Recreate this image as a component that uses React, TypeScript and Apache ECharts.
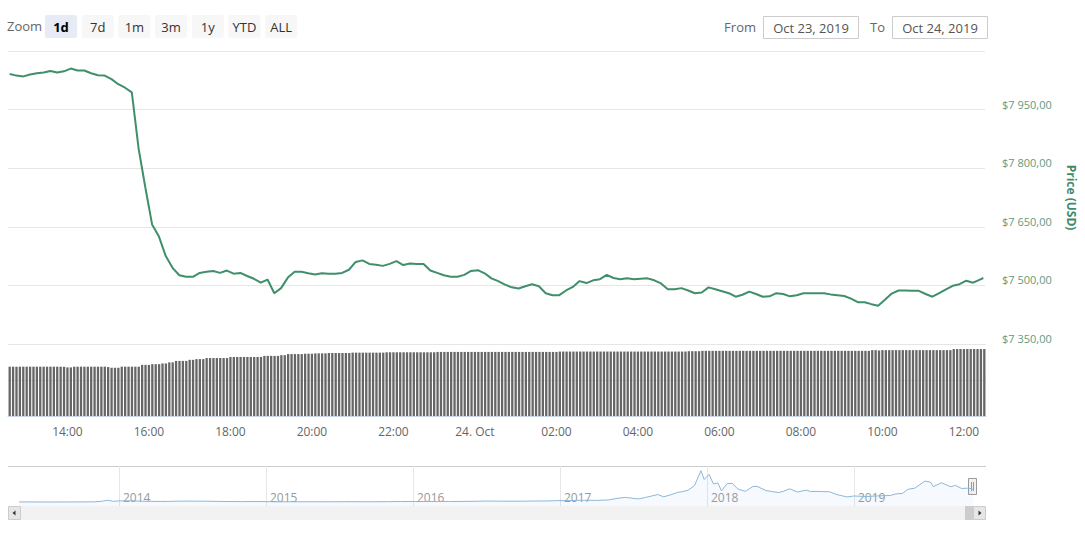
import React, { useEffect, useRef } from "react";
import * as echarts from "echarts";

// ---- data ----
const startMinutes = 12 * 60 + 35; // first 5-minute slot: Oct 23, 12:35
const slotMinutes = 5;

// price every 10 minutes (every second slot), then the latest slot
const price10m = [
  8041, 8037, 8035, 8040, 8043, 8045, 8049, 8045, 8048, 8055,
  8050, 8050, 8043, 8038, 8037, 8028, 8015, 8006, 7994, 7850,
  7750, 7655, 7625, 7575, 7545, 7526, 7522, 7522, 7532, 7535,
  7537, 7532, 7538, 7530, 7532, 7524, 7517, 7507, 7515, 7480,
  7493, 7520, 7535, 7535, 7531, 7528, 7531, 7530, 7530, 7532,
  7540, 7560, 7564, 7555, 7553, 7550, 7555, 7562, 7552, 7556,
  7555, 7555, 7538, 7532, 7526, 7522, 7522, 7527, 7537, 7539,
  7531, 7518, 7511, 7502, 7495, 7492, 7498, 7503, 7498, 7480,
  7475, 7475, 7487, 7496, 7511, 7506, 7513, 7516, 7527, 7519,
  7516, 7518, 7516, 7517, 7518, 7513, 7505, 7490, 7490, 7493,
  7487, 7480, 7482, 7495, 7490, 7485, 7480, 7471, 7476, 7484,
  7478, 7471, 7472, 7480, 7478, 7472, 7475, 7480, 7480, 7480,
  7480, 7477, 7475, 7473, 7466, 7457, 7457, 7452, 7448, 7463,
  7479, 7487, 7487, 7486, 7486, 7478, 7471, 7480, 7490, 7499,
  7503, 7512, 7507, 7515,
];
const priceLatest = 7519;

// volume per 5-minute slot, one row per hour
const volumeRows = [
  [13.7, 13.7, 13.7, 13.7, 13.7, 13.7, 13.7, 13.7, 13.7, 13.7, 13.7, 13.7],
  [13.7, 13.7, 13.7, 13.7, 13.7, 13.5, 13.5, 13.7, 13.7, 13.7, 13.7, 13.7],
  [13.7, 13.7, 13.7, 13.7, 13.7, 13.6, 13.4, 13.4, 13.4, 13.7, 13.7, 13.7],
  [13.7, 13.7, 13.7, 14.2, 14.2, 14.2, 14.4, 14.4, 14.4, 14.6, 14.6, 14.9],
  [14.9, 15.3, 15.3, 15.3, 15.3, 15.6, 15.6, 15.8, 15.8, 15.8, 16.1, 16.1],
  [16.1, 16.1, 16.1, 16.1, 16.1, 16.4, 16.4, 16.4, 16.4, 16.4, 16.4, 16.4],
  [16.4, 16.4, 16.4, 16.7, 16.7, 16.7, 16.7, 16.7, 16.9, 16.9, 17.2, 17.2],
  [17.2, 17.2, 17.2, 17.3, 17.3, 17.3, 17.4, 17.4, 17.4, 17.4, 17.5, 17.5],
  [17.5, 17.5, 17.5, 17.5, 17.5, 17.6, 17.6, 17.6, 17.6, 17.6, 17.6, 17.6],
  [17.6, 17.6, 17.6, 17.7, 17.7, 17.7, 17.7, 17.7, 17.7, 17.7, 17.7, 17.7],
  [17.7, 17.7, 17.7, 17.7, 17.7, 17.7, 17.8, 17.8, 17.8, 17.8, 17.8, 17.8],
  [17.8, 17.8, 17.8, 17.8, 17.8, 17.8, 17.8, 17.8, 17.8, 17.8, 17.8, 17.8],
  [17.8, 17.8, 17.8, 17.8, 17.8, 17.8, 17.8, 17.8, 17.8, 17.8, 17.8, 17.8],
  [17.8, 17.8, 17.8, 17.8, 17.8, 17.8, 17.9, 17.9, 17.9, 17.9, 17.9, 17.9],
  [17.9, 17.9, 17.9, 17.9, 17.9, 17.9, 17.9, 17.9, 17.9, 17.9, 17.9, 17.9],
  [17.9, 17.9, 17.9, 17.9, 17.9, 17.9, 17.9, 17.9, 17.9, 17.9, 17.9, 17.9],
  [17.9, 17.9, 17.9, 17.9, 17.9, 17.9, 17.9, 17.9, 18.0, 18.0, 18.0, 18.0],
  [18.1, 18.1, 18.1, 18.1, 18.1, 18.1, 18.1, 18.1, 18.1, 18.1, 18.1, 18.1],
  [18.1, 18.1, 18.1, 18.1, 18.1, 18.1, 18.1, 18.1, 18.1, 18.1, 18.1, 18.1],
  [18.1, 18.1, 18.1, 18.1, 18.1, 18.1, 18.1, 18.1, 18.1, 18.1, 18.1, 18.1],
  [18.1, 18.1, 18.1, 18.1, 18.1, 18.1, 18.1, 18.1, 18.1, 18.1, 18.1, 18.1],
  [18.1, 18.1, 18.3, 18.3, 18.2, 18.3, 18.3, 18.3, 18.3, 18.3, 18.3, 18.3],
  [18.3, 18.3, 18.3, 18.3, 18.3, 18.3, 18.3, 18.3, 18.3, 18.3, 18.3, 18.3],
  [18.3, 18.3, 18.6, 18.6, 18.6, 18.6, 18.6, 18.6, 18.6, 18.6, 18.6, 18.6],
];

const priceMin = 7350;
const priceMax = 8100;
const priceStep = 150;
const volumeMax = 20;
const volumeStep = 10;

const zoomButtons = ["1d", "7d", "1m", "3m", "1y", "YTD", "ALL"];
const selectedZoom = "1d";
const fromDate = "Oct 23, 2019";
const toDate = "Oct 24, 2019";
const dayTwoLabel = "24. Oct";

// navigator: long-term history
const navDates = [
  "2013-04-28", "2013-06-01", "2013-07-01", "2013-08-01", "2013-09-01", "2013-10-01", "2013-11-01", "2013-11-20", "2013-12-04", "2013-12-18",
  "2014-01-01", "2014-02-01", "2014-03-01", "2014-04-01", "2014-05-01", "2014-06-01", "2014-07-01", "2014-08-01", "2014-09-01", "2014-10-01", "2014-11-01", "2014-12-01",
  "2015-01-01", "2015-02-01", "2015-03-01", "2015-04-01", "2015-05-01", "2015-06-01", "2015-07-01", "2015-08-01", "2015-09-01", "2015-10-01", "2015-11-01", "2015-12-01",
  "2016-01-01", "2016-02-01", "2016-03-01", "2016-04-01", "2016-05-01", "2016-06-01", "2016-07-01", "2016-08-01", "2016-09-01", "2016-10-01", "2016-11-01", "2016-12-01",
  "2017-01-01", "2017-02-01", "2017-03-01", "2017-04-01", "2017-05-01", "2017-05-25", "2017-06-12", "2017-07-15", "2017-08-01", "2017-09-01", "2017-09-15", "2017-10-01", "2017-10-20", "2017-11-01", "2017-11-15", "2017-12-01", "2017-12-17", "2017-12-25",
  "2018-01-06", "2018-01-17", "2018-01-28", "2018-02-06", "2018-02-20", "2018-03-05", "2018-03-18", "2018-04-06", "2018-04-25", "2018-05-05", "2018-05-28", "2018-06-12", "2018-06-28", "2018-07-10", "2018-07-25", "2018-08-14", "2018-09-04", "2018-09-15", "2018-10-01", "2018-10-15", "2018-11-01", "2018-11-20", "2018-12-01", "2018-12-15",
  "2019-01-01", "2019-02-01", "2019-03-01", "2019-04-01", "2019-04-15", "2019-05-01", "2019-05-15", "2019-06-01", "2019-06-26", "2019-07-10", "2019-07-17", "2019-08-06", "2019-08-29", "2019-09-10", "2019-09-25", "2019-10-10", "2019-10-22", "2019-10-24",
];
const navValues = [
  135, 129, 97, 106, 135, 133, 204, 560, 1150, 520,
  770, 830, 560, 470, 445, 630, 640, 590, 480, 390, 330, 380,
  320, 220, 255, 245, 235, 230, 263, 285, 230, 237, 314, 378,
  430, 370, 437, 416, 448, 531, 673, 624, 574, 609, 700, 745,
  964, 970, 1190, 1080, 1350, 2400, 2950, 1950, 2875, 4700, 3300, 4340, 6000, 6470, 7300, 10200, 19300, 13900,
  17100, 11200, 11800, 6900, 11400, 11500, 8200, 6600, 9600, 9700, 7100, 6500, 5900, 6700, 8200, 6200, 7400, 6500, 6600, 6500, 6350, 4600, 4000, 3200,
  3800, 3450, 3850, 4100, 5100, 5300, 7900, 8600, 12900, 12300, 9500, 11900, 9500, 10300, 8400, 8600, 8200, 7500,
];
const navYearMin = 2013.245;
const navYearMax = 2020;

// ---- helpers ----
const FONT = "'Open Sans', 'DejaVu Sans', sans-serif";
const volume = volumeRows.flat();
const slotInfo = volume.map((_, i) => {
  const m = startMinutes + i * slotMinutes;
  const dayMin = m % 1440;
  return { hh: Math.floor(dayMin / 60), mm: dayMin % 60, nextDay: m >= 1440 };
});
const categories = slotInfo.map((s, i) => String(i));
const isLabelSlot = (i: number) => {
  const s = slotInfo[i];
  return !!s && s.mm === 0 && s.hh % 2 === 0;
};
const slotLabel = (i: number) => {
  const s = slotInfo[i];
  if (s.hh === 0 && s.mm === 0) return dayTwoLabel;
  return String(s.hh).padStart(2, "0") + ":00";
};
const fmtPrice = (v: number) => {
  const n = Math.round(v).toString().replace(/\B(?=(\d{3})+(?!\d))/g, " ");
  return "$" + n + ",00";
};
const toYear = (s: string) => {
  const [y, m, d] = s.split("-").map(Number);
  const t0 = Date.UTC(y, 0, 1);
  const t1 = Date.UTC(y + 1, 0, 1);
  return y + (Date.UTC(y, m - 1, d) - t0) / (t1 - t0);
};

export default function App() {
  const ref = useRef<HTMLDivElement>(null);
  useEffect(() => {
    if (!ref.current) return;
    const chart = echarts.init(ref.current, null, { renderer: "svg" });

    const priceData: [number, number][] = price10m.map((v, i) => [i * 2, v]);
    priceData.push([volume.length - 1, priceLatest]);
    const navData = navDates.map((d, i) => [toYear(d), navValues[i]]);

    const btnW = 32;
    const btnGap = 4.7;
    const graphics: any[] = [
      { type: "text", left: 7, top: 19, style: { text: "Zoom", fill: "#666", font: `13px ${FONT}` } },
    ];
    zoomButtons.forEach((b, i) => {
      const x = 45 + i * (btnW + btnGap);
      const sel = b === selectedZoom;
      graphics.push({
        type: "rect",
        shape: { x, y: 15, width: btnW, height: 23, r: 2 },
        style: { fill: sel ? "#e6ebf5" : "#f7f7f7" },
      });
      graphics.push({
        type: "text",
        x: x + btnW / 2,
        y: 27,
        style: {
          text: b,
          fill: sel ? "#000" : "#333",
          font: `${sel ? "bold " : ""}13px ${FONT}`,
          align: "center",
          verticalAlign: "middle",
        },
      });
    });
    graphics.push(
      { type: "text", x: 756, y: 27, style: { text: "From", fill: "#666", font: `13px ${FONT}`, align: "right", verticalAlign: "middle" } },
      { type: "rect", shape: { x: 763.5, y: 16.5, width: 95, height: 22 }, style: { fill: "#fff", stroke: "#cccccc", lineWidth: 1 } },
      { type: "text", x: 811, y: 27.5, style: { text: fromDate, fill: "#555", font: `13px ${FONT}`, align: "center", verticalAlign: "middle" } },
      { type: "text", x: 885, y: 27, style: { text: "To", fill: "#666", font: `13px ${FONT}`, align: "right", verticalAlign: "middle" } },
      { type: "rect", shape: { x: 892.5, y: 16.5, width: 95, height: 22 }, style: { fill: "#fff", stroke: "#cccccc", lineWidth: 1 } },
      { type: "text", x: 940, y: 27.5, style: { text: toDate, fill: "#555", font: `13px ${FONT}`, align: "center", verticalAlign: "middle" } },
      // navigator outline
      { type: "line", shape: { x1: 8, y1: 466.5, x2: 986, y2: 466.5 }, style: { stroke: "#cccccc", lineWidth: 1 } },
      // scrollbar
      { type: "rect", shape: { x: 8, y: 506, width: 978, height: 14 }, style: { fill: "#f2f2f2" } },
      { type: "rect", shape: { x: 965, y: 506, width: 8, height: 14 }, style: { fill: "#cccccc" } },
      { type: "rect", shape: { x: 8.5, y: 506.5, width: 12, height: 13 }, style: { fill: "#e6e6e6", stroke: "#cccccc", lineWidth: 1 } },
      { type: "polygon", shape: { points: [[12.5, 513], [15.5, 510.5], [15.5, 515.5]] }, style: { fill: "#333" } },
      { type: "rect", shape: { x: 973.5, y: 506.5, width: 12, height: 13 }, style: { fill: "#e6e6e6", stroke: "#cccccc", lineWidth: 1 } },
      { type: "polygon", shape: { points: [[981.5, 513], [978.5, 510.5], [978.5, 515.5]] }, style: { fill: "#333" } },
      // navigator handle
      { type: "rect", shape: { x: 968.5, y: 478.5, width: 8, height: 16 }, style: { fill: "#f2f2f2", stroke: "#999", lineWidth: 1 } },
      { type: "line", shape: { x1: 971.5, y1: 482, x2: 971.5, y2: 491 }, style: { stroke: "#999", lineWidth: 1 } },
      { type: "line", shape: { x1: 973.5, y1: 482, x2: 973.5, y2: 491 }, style: { stroke: "#999", lineWidth: 1 } }
    );

    chart.setOption({
      animation: false,
      textStyle: { fontFamily: FONT },
      grid: [
        { left: 8, right: 99, top: 51, height: 293 },
        { left: 8, right: 99, top: 344, height: 72 },
        { left: 8, right: 84, top: 466, height: 40 },
      ],
      xAxis: [
        { type: "category", gridIndex: 0, data: categories, boundaryGap: true, show: false },
        {
          type: "category",
          gridIndex: 1,
          data: categories,
          boundaryGap: true,
          axisLine: { lineStyle: { color: "#ccd6eb" } },
          axisTick: { interval: (i: number) => isLabelSlot(i), alignWithLabel: true, length: 8, lineStyle: { color: "#ccd6eb" } },
          axisLabel: {
            interval: (i: number) => isLabelSlot(i),
            formatter: (_v: string, i: number) => slotLabel(i),
            color: "#666",
            fontSize: 12,
            margin: 9,
          },
        },
        {
          type: "value",
          gridIndex: 2,
          min: navYearMin,
          max: navYearMax,
          splitNumber: 6,
          axisLine: { show: false },
          axisTick: { show: false },
          splitLine: { show: true, showMinLine: false, showMaxLine: false, lineStyle: { color: "#e6e6e6" } },
          axisLabel: {
            inside: true,
            align: "left",
            padding: [0, 0, 0, 4],
            margin: 3,
            color: "#999",
            fontSize: 12,
            showMinLabel: false,
            showMaxLabel: false,
            formatter: (v: number) => String(v),
          },
        },
      ],
      yAxis: [
        {
          type: "value",
          gridIndex: 0,
          position: "right",
          min: priceMin,
          max: priceMax,
          interval: priceStep,
          splitLine: { lineStyle: { color: "#e6e6e6" } },
          axisLine: { show: false },
          axisTick: { show: false },
          axisLabel: {
            formatter: (v: number) => fmtPrice(v),
            color: "#5f9a7e",
            fontSize: 11,
            margin: 17,
            align: "left",
            verticalAlign: "bottom",
            showMaxLabel: false,
          },
          name: "Price (USD)",
          nameLocation: "middle",
          nameRotate: -90,
          nameGap: 80,
          nameTextStyle: { color: "#3f8c6c", fontWeight: "bold", fontSize: 12 },
        },
        {
          type: "value",
          gridIndex: 1,
          min: 0,
          max: volumeMax,
          interval: volumeStep,
          axisLabel: { show: false },
          axisLine: { show: false },
          axisTick: { show: false },
          splitLine: { lineStyle: { color: "#e6e6e6" } },
        },
        {
          type: "value",
          gridIndex: 2,
          min: -2354,
          max: 22183,
          show: false,
          splitLine: { show: false },
        },
      ],
      series: [
        {
          type: "line",
          xAxisIndex: 0,
          yAxisIndex: 0,
          data: priceData,
          symbol: "none",
          lineStyle: { color: "#3f8f6b", width: 2 },
        },
        {
          type: "bar",
          xAxisIndex: 1,
          yAxisIndex: 1,
          data: volume,
          barCategoryGap: "32%",
          itemStyle: { color: "#666666" },
        },
        {
          type: "line",
          xAxisIndex: 2,
          yAxisIndex: 2,
          data: navData,
          symbol: "none",
          lineStyle: { color: "#8db6d9", width: 1 },
          areaStyle: { origin: "start", color: "rgba(124,181,236,0.10)" },
        },
      ],
      graphic: graphics,
    });
    return () => chart.dispose();
  }, []);
  return (
    <div
      ref={ref}
      style={{ position: "fixed", left: 0, top: 0, width: 1085, height: 535, background: "#fff" }}
    />
  );
}
